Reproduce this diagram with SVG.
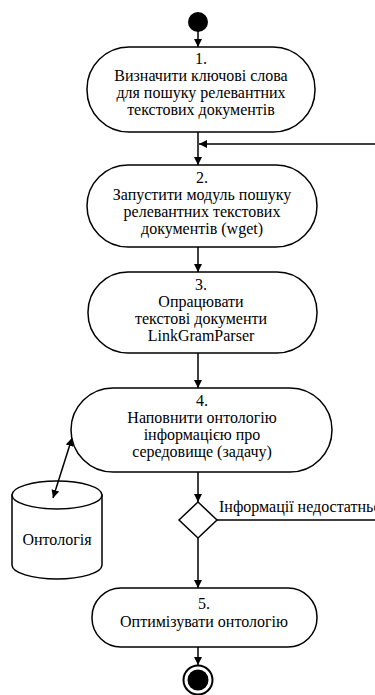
<svg xmlns="http://www.w3.org/2000/svg" width="375" height="695" viewBox="0 0 375 695">
<defs>
<style>
.node{fill:#fff;stroke:#000;stroke-width:1.5}
.t{font-family:'Liberation Serif','Times New Roman',Times,serif;font-size:16px;fill:#000;text-anchor:middle}
.lbl{font-family:'Liberation Serif','Times New Roman',Times,serif;font-size:16px;fill:#000}
.c{fill:none;stroke:#000;stroke-width:1.5}
</style>
<marker id="ah" viewBox="0 0 10 10" refX="10" refY="5" markerWidth="8" markerHeight="8" markerUnits="userSpaceOnUse" orient="auto-start-reverse">
<path d="M0,0 L10,5 L0,10 z" fill="#000"/>
</marker>
</defs>
<rect width="375" height="695" fill="#fff"/>
<g id="start"><circle cx="198" cy="22" r="10" fill="#000"/></g>
<g id="n1">
<rect class="node" x="87" y="47" width="228" height="85" rx="42" ry="42"/>
<text class="t" x="201" y="64">1.</text>
<text class="t" x="201" y="81">Визначити ключові слова</text>
<text class="t" x="201" y="98">для пошуку релевантних</text>
<text class="t" x="201" y="115">текстових документів</text>
</g>
<g id="n2">
<rect class="node" x="87" y="165" width="230" height="82" rx="41" ry="41"/>
<text class="t" x="202" y="183">2.</text>
<text class="t" x="202" y="200">Запустити модуль пошуку</text>
<text class="t" x="202" y="217">релевантних текстових</text>
<text class="t" x="202" y="234">документів (wget)</text>
</g>
<g id="n3">
<rect class="node" x="88" y="272" width="229" height="81" rx="40" ry="40"/>
<text class="t" x="201" y="290">3.</text>
<text class="t" x="201" y="307">Опрацювати</text>
<text class="t" x="201" y="324">текстові документи</text>
<text class="t" x="201" y="341">LinkGramParser</text>
</g>
<g id="n4">
<rect class="node" x="71" y="388" width="261" height="84" rx="42" ry="42"/>
<text class="t" x="202" y="406">4.</text>
<text class="t" x="202" y="423">Наповнити онтологію</text>
<text class="t" x="202" y="440">інформацією про</text>
<text class="t" x="202" y="457">середовище (задачу)</text>
</g>
<g id="decision">
<polygon class="node" points="198,502 217,520 198,538 179,520"/>
</g>
<g id="db">
<path class="node" d="M12,495 L12,565 A45,14 0 0 0 102,565 L102,495 Z"/>
<ellipse class="node" cx="57" cy="495" rx="45" ry="14"/>
<text class="t" x="57" y="545">Онтологія</text>
</g>
<g id="n5">
<rect class="node" x="92" y="588" width="225" height="59" rx="29" ry="29"/>
<text class="t" x="204" y="609">5.</text>
<text class="t" x="204" y="627">Оптимізувати онтологію</text>
</g>
<g id="end">
<circle cx="198" cy="680" r="14.5" fill="#fff" stroke="#000" stroke-width="2"/>
<circle cx="198" cy="680" r="10.5" fill="#000"/>
</g>
<g id="connectors">
<line class="c" x1="198" y1="31" x2="198" y2="47" marker-end="url(#ah)"/>
<line class="c" x1="198" y1="132" x2="198" y2="165" marker-end="url(#ah)"/>
<line class="c" x1="376" y1="144" x2="199" y2="144" marker-end="url(#ah)"/>
<line class="c" x1="198" y1="247" x2="198" y2="272" marker-end="url(#ah)"/>
<line class="c" x1="198" y1="353" x2="198" y2="388" marker-end="url(#ah)"/>
<line class="c" x1="198" y1="472" x2="198" y2="502" marker-end="url(#ah)"/>
<line class="c" x1="198" y1="538" x2="198" y2="588" marker-end="url(#ah)"/>
<line class="c" x1="217" y1="520" x2="376" y2="520"/>
<text class="lbl" x="219" y="512">Інформації недостатньо</text>
<line class="c" x1="198" y1="647" x2="198" y2="665" marker-end="url(#ah)"/>
<line class="c" x1="53" y1="498" x2="72" y2="438" marker-start="url(#ah)" marker-end="url(#ah)"/>
</g>
</svg>
